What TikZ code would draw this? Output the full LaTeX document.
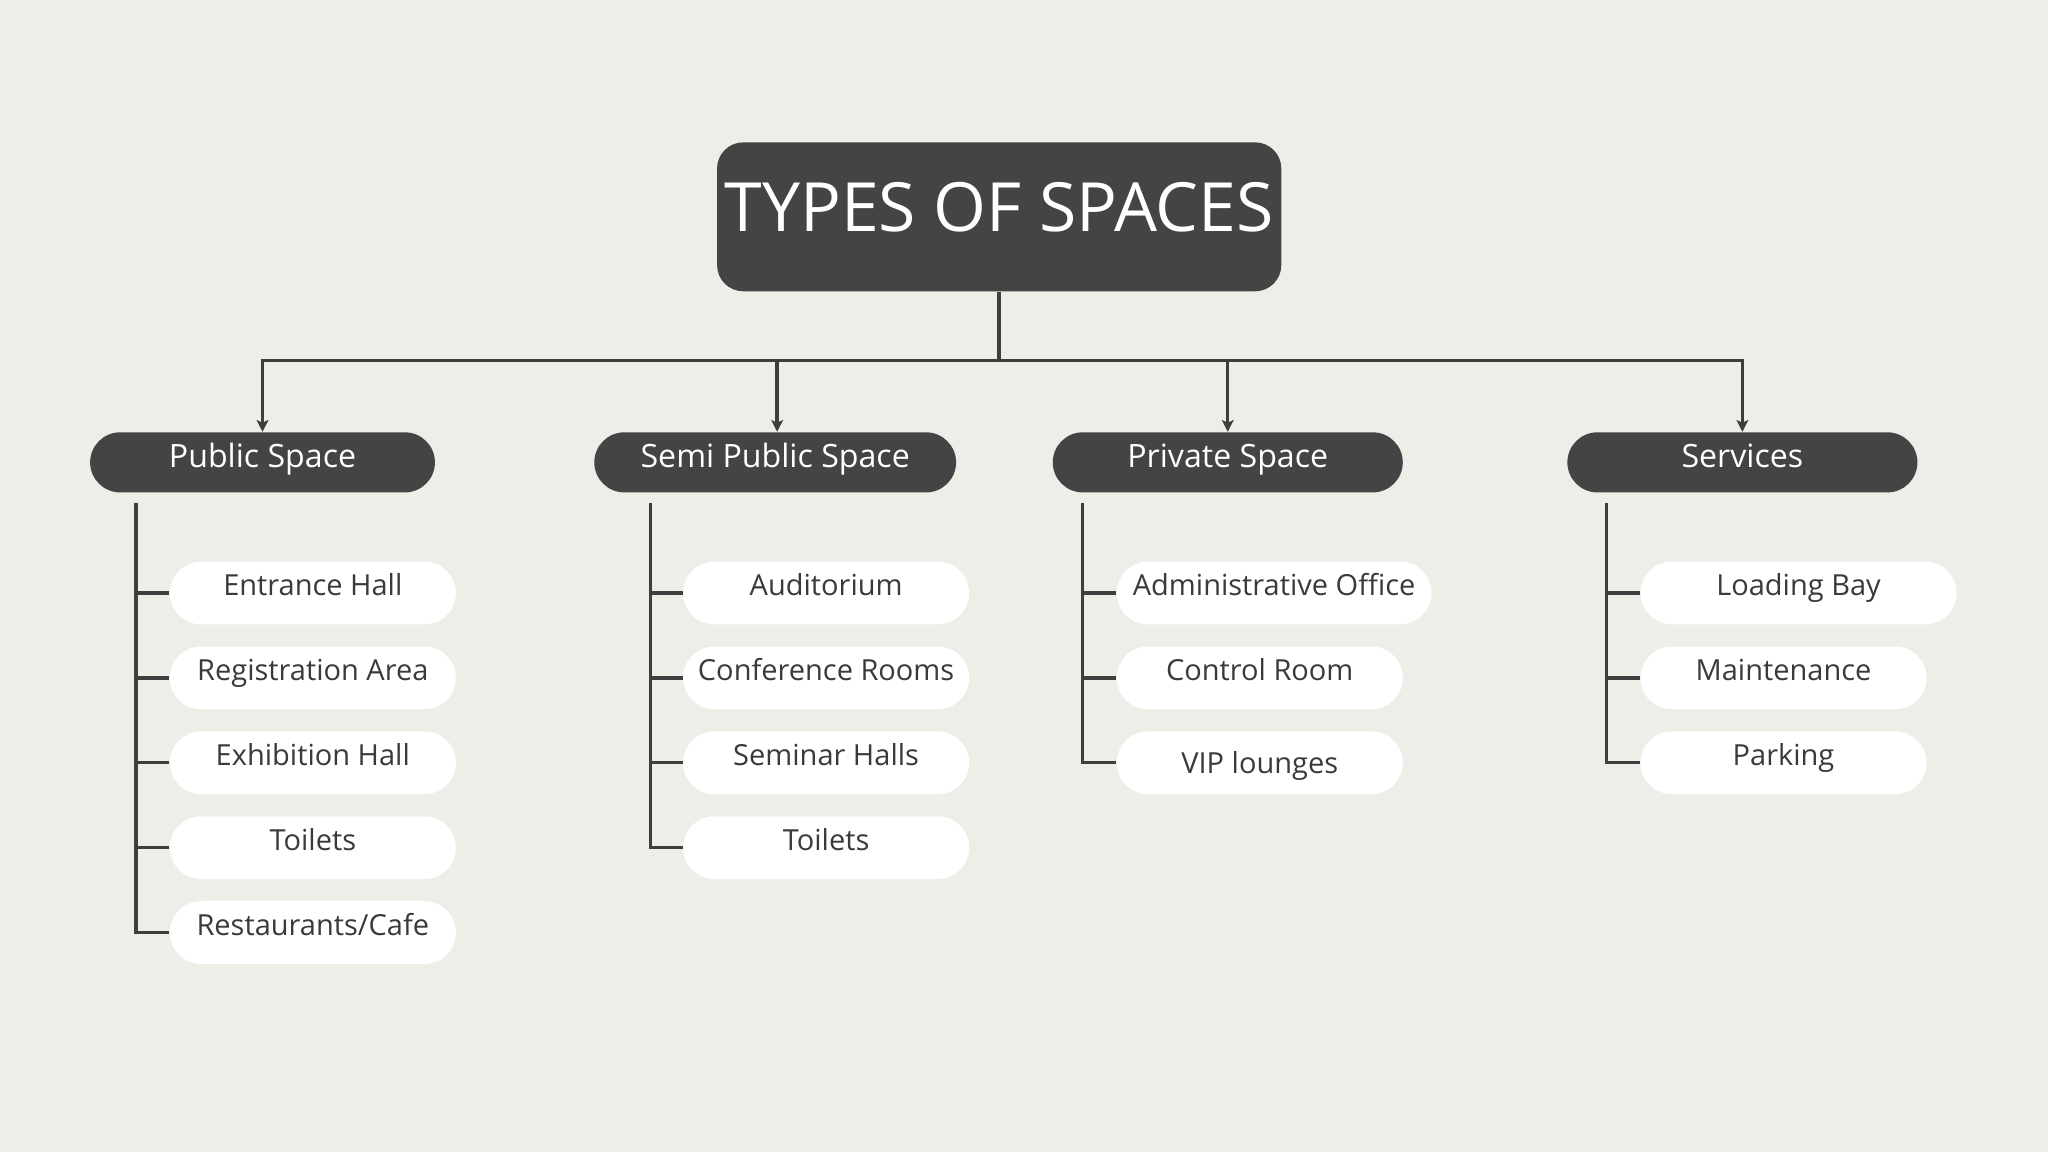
\documentclass[tikz,border=0pt]{standalone}
\usepackage{fontspec}
\setmainfont{Open Sans}
\usetikzlibrary{arrows.meta,calc}
\definecolor{bg}{HTML}{EFEDE7}
\definecolor{dark}{HTML}{444444}
\definecolor{linec}{HTML}{3E3E3E}
\definecolor{txt}{HTML}{3A3A3A}
\begin{document}
\begin{tikzpicture}[x=0.5pt,y=-0.5pt,
  titlebox/.style={fill=dark, rounded corners=10pt, minimum width=216pt, minimum height=57pt,
    inner sep=0pt, text=white, font=\fontsize{26}{30}\selectfont, text height=19pt, text depth=8pt},
  catbox/.style={fill=dark, rounded corners=11.5pt, minimum height=23pt,
    inner sep=0pt, text=white, font=\fontsize{12.3}{14}\selectfont, text height=8.5pt, text depth=4.5pt},
  itembox/.style={fill=white, rounded corners=12pt, minimum height=24pt, minimum width=109.5pt,
    inner sep=0pt, text=txt, font=\fontsize{11.1}{13}\selectfont, text height=8pt, text depth=6pt},
  conn/.style={draw=linec, line width=1.3pt},
  arr/.style={conn, -{Stealth[length=4.5pt,width=4.5pt,inset=1pt]}}
]
\fill[bg] (0,0) rectangle (1568,882);
\useasboundingbox (0,0) rectangle (1568,882);

% title
\node[titlebox] (t) at (765,166) {TYPES OF SPACES};
\coordinate (hub) at (765,276);

% categories
\node[catbox, minimum width=132pt] (p) at (201,354) {Public Space};
\node[catbox, minimum width=138.5pt] (s) at (593.5,354) {Semi Public Space};
\node[catbox, minimum width=134pt] (v) at (940,354) {Private Space};
\node[catbox, minimum width=134pt] (r) at (1334,354) {Services};

\draw[conn] (t.south) -- (hub);
\draw[arr] (hub) -| (p.north);
\draw[arr] (hub) -| ($(s.north)+(1.5,0)$);
\draw[arr] (hub) -| (v.north);
\draw[arr] (hub) -| (r.north);

% Public Space items
\node[itembox] (p1) at (239.5,454) {Entrance Hall};
\node[itembox] (p2) at (239.5,519) {Registration Area};
\node[itembox] (p3) at (239.5,584) {Exhibition Hall};
\node[itembox] (p4) at (239.5,649) {Toilets};
\node[itembox] (p5) at (239.5,714) {Restaurants/Cafe};
\coordinate (pv) at (104,385);
\draw[conn] (pv) |- (p5.west);
\foreach \i in {1,...,4} \draw[conn] (p\i.west -| pv) -- (p\i.west);

% Semi Public Space items
\node[itembox] (s1) at (632.5,454) {Auditorium};
\node[itembox] (s2) at (632.5,519) {Conference Rooms};
\node[itembox] (s3) at (632.5,584) {Seminar Halls};
\node[itembox] (s4) at (632.5,649) {Toilets};
\coordinate (sv) at (498,385);
\draw[conn] (sv) |- (s4.west);
\foreach \i in {1,...,3} \draw[conn] (s\i.west -| sv) -- (s\i.west);

% Private Space items
\node[itembox, minimum width=120.5pt] (v1) at (975.5,454) {Administrative Office};
\node[itembox] (v2) at (964.5,519) {Control Room};
\node[itembox, text height=12pt, text depth=4pt] (v3) at (964.5,584) {VIP lounges};
\coordinate (vv) at (829,385);
\draw[conn] (vv) |- (v3.west);
\foreach \i in {1,2} \draw[conn] (v\i.west -| vv) -- (v\i.west);

% Services items
\node[itembox, minimum width=121pt] (r1) at (1377,454) {Loading Bay};
\node[itembox] (r2) at (1365.5,519) {Maintenance};
\node[itembox] (r3) at (1365.5,584) {Parking};
\coordinate (rv) at (1230,385);
\draw[conn] (rv) |- (r3.west);
\foreach \i in {1,2} \draw[conn] (r\i.west -| rv) -- (r\i.west);
\end{tikzpicture}
\end{document}
